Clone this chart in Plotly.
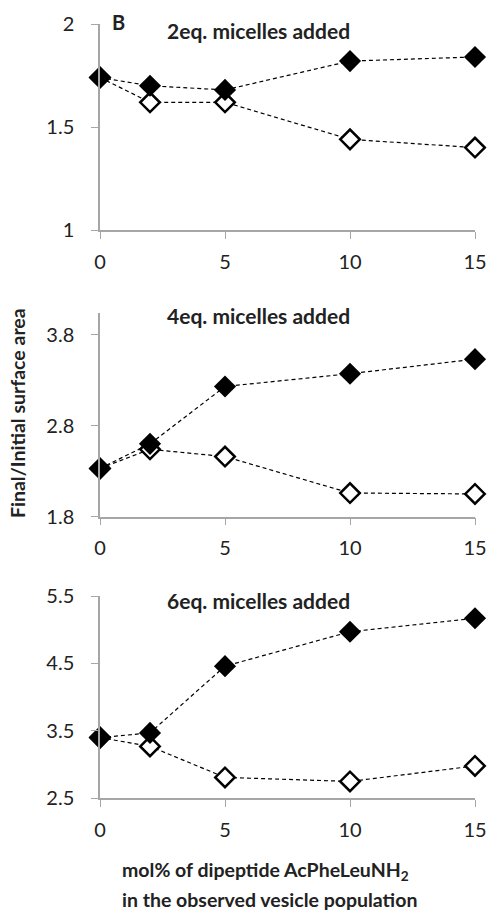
import plotly.graph_objects as go

x_vals = [0, 2, 5, 10, 15]

filled_2eq = [1.74, 1.70, 1.68, 1.82, 1.84]
open_2eq = [1.74, 1.62, 1.62, 1.44, 1.40]

filled_4eq = [2.33, 2.60, 3.23, 3.37, 3.53]
open_4eq = [2.33, 2.54, 2.46, 2.06, 2.05]

filled_6eq = [3.40, 3.47, 4.46, 4.97, 5.17]
open_6eq = [3.40, 3.27, 2.81, 2.75, 2.98]

panel_titles = ["2eq. micelles added", "4eq. micelles added", "6eq. micelles added"]
y_ranges = [[1, 2], [1.8, 4.04], [2.5, 5.5]]
y_ticks = [[1, 1.5, 2], [1.8, 2.8, 3.8], [2.5, 3.5, 4.5, 5.5]]
y_ticktext = [["1", "1.5", "2"], ["1.8", "2.8", "3.8"], ["2.5", "3.5", "4.5", "5.5"]]
x_ticks = [0, 5, 10, 15]

W, H = 490, 912
FONT = "Lato, Open Sans, sans-serif"
AXC = "#a6a6a6"

# pixel positions (top, bottom) of each plot area
panel_px = [(24, 230), (312.7, 516.7), (596, 798.3)]
x_px = (100, 475)

fig = go.Figure()
series = [(open_2eq, filled_2eq), (open_4eq, filled_4eq), (open_6eq, filled_6eq)]
for i, (op, fi) in enumerate(series):
    sfx = "" if i == 0 else str(i + 1)
    fig.add_trace(go.Scatter(
        x=x_vals, y=op, xaxis="x" + sfx, yaxis="y" + sfx, mode="lines+markers",
        line=dict(color="black", width=1.2, dash="4px,3px"),
        marker=dict(symbol="diamond", size=15, color="white",
                    line=dict(color="black", width=2.5)),
        cliponaxis=False, showlegend=False))
    fig.add_trace(go.Scatter(
        x=x_vals, y=fi, xaxis="x" + sfx, yaxis="y" + sfx, mode="lines+markers",
        line=dict(color="black", width=1.2, dash="4px,3px"),
        marker=dict(symbol="diamond", size=17, color="black",
                    line=dict(color="black", width=0)),
        cliponaxis=False, showlegend=False))

layout = dict(
    width=W, height=H, margin=dict(l=0, r=0, t=0, b=0, pad=0, autoexpand=False),
    paper_bgcolor="white", plot_bgcolor="white",
    font=dict(family=FONT, size=18, color="#222"),
)
for i in range(3):
    sfx = "" if i == 0 else str(i + 1)
    top, bot = panel_px[i]
    layout["xaxis" + sfx] = dict(
        domain=[x_px[0] / W, x_px[1] / W], range=[0, 15], automargin=False,
        anchor="y" + sfx, tickvals=x_ticks, ticks="outside", ticklen=7,
        tickcolor=AXC, showline=True, linecolor=AXC, linewidth=1.5,
        ticklabelstandoff=6,
        showgrid=False, zeroline=False, tickfont=dict(size=20, color="#222"))
    layout["yaxis" + sfx] = dict(
        domain=[1 - bot / H, 1 - top / H], range=y_ranges[i], automargin=False,
        anchor="x" + sfx, tickvals=y_ticks[i], ticktext=y_ticktext[i],
        ticks="outside", ticklen=7, tickcolor=AXC, showline=True,
        ticklabelstandoff=13,
        linecolor=AXC, linewidth=1.5, showgrid=False, zeroline=False,
        tickfont=dict(size=20, color="#222"))
fig.update_layout(**layout)

title_y = [30, 315, 600.7]
for i, t in enumerate(panel_titles):
    fig.add_annotation(text="<b>" + t + "</b>", xref="paper", yref="paper",
                       x=258 / W, y=1 - title_y[i] / H, xanchor="center", yanchor="middle",
                       showarrow=False, font=dict(size=21, color="#222", family=FONT))
fig.add_annotation(text="<b>B</b>", xref="paper", yref="paper",
                   x=118 / W, y=1 - 22 / H, xanchor="center", yanchor="middle",
                   showarrow=False, font=dict(size=20, color="#222", family=FONT))
fig.add_annotation(text="<b>Final/Initial surface area</b>", xref="paper", yref="paper",
                   x=17 / W, y=1 - 413 / H, xanchor="center", yanchor="middle",
                   textangle=-90, showarrow=False,
                   font=dict(size=19.5, color="#222", family=FONT))
fig.add_annotation(text="<b>mol% of dipeptide AcPheLeuNH<sub>2</sub></b>", xref="paper", yref="paper",
                   x=120 / W, y=1 - 871 / H, xanchor="left", yanchor="middle",
                   showarrow=False, font=dict(size=19.5, color="#222", family=FONT))
fig.add_annotation(text="<b>in the observed vesicle population</b>", xref="paper", yref="paper",
                   x=120 / W, y=1 - 899 / H, xanchor="left", yanchor="middle",
                   showarrow=False, font=dict(size=19.5, color="#222", family=FONT))

fig.write_html("out.html")
